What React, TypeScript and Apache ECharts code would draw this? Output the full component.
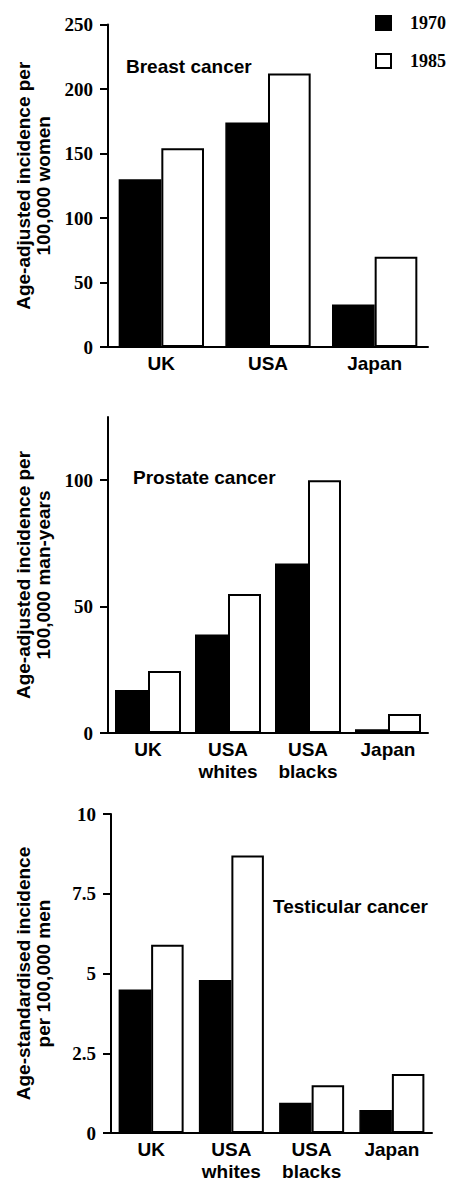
import React, { useEffect, useRef } from "react";
import * as echarts from "echarts";

const years = ["1970", "1985"];

const breastCategories = ["UK", "USA", "Japan"];
const breast1970 = [130, 174, 33];
const breast1985 = [154, 212, 70];
const breastTicks = [0, 50, 100, 150, 200, 250];

const prostateCategories = ["UK", "USA\nwhites", "USA\nblacks", "Japan"];
const prostate1970 = [17, 39, 67, 1.5];
const prostate1985 = [24.5, 55, 100, 7.5];
const prostateTicks = [0, 50, 100];

const testicularCategories = ["UK", "USA\nwhites", "USA\nblacks", "Japan"];
const testicular1970 = [4.5, 4.8, 0.95, 0.72];
const testicular1985 = [5.9, 8.7, 1.5, 1.85];

const titles = ["Breast cancer", "Prostate cancer", "Testicular cancer"];
const yTitles = [
  "Age-adjusted incidence per\n100,000 women",
  "Age-adjusted incidence per\n100,000 man-years",
  "Age-standardised incidence\nper 100,000 men",
];

const SANS = "'Liberation Sans', Arial, sans-serif";
const SERIF = "'Liberation Serif', 'Times New Roman', serif";

export default function App() {
  const ref = useRef<HTMLDivElement>(null);
  useEffect(() => {
    if (!ref.current) return;
    const chart = echarts.init(ref.current, undefined, { renderer: "svg" });

    const grids = [
      { left: 108, top: 24.5, width: 320, height: 322.5 },
      { left: 108, top: 417, width: 320, height: 316 },
      { left: 111, top: 814, width: 321, height: 322.5 },
    ];
    const cats = [breastCategories, prostateCategories, testicularCategories];
    const d70 = [breast1970, prostate1970, testicular1970];
    const d85 = [breast1985, prostate1985, testicular1985];
    const gaps = ["20%", "17.5%", "19%"];

    const axisLine = { show: true, lineStyle: { color: "#000", width: 2 } };
    const axisTick = { show: true, length: 8, lineStyle: { color: "#000", width: 2 } };
    const yLabel = {
      fontFamily: SERIF,
      fontWeight: "bold" as const,
      fontSize: 19,
      color: "#000",
      margin: 15,
    };

    const xAxis = cats.map((c, i) => ({
      type: "category" as const,
      gridIndex: i,
      data: c,
      axisLine,
      axisTick: { show: false },
      axisLabel: {
        fontFamily: SANS,
        fontWeight: "bold" as const,
        fontSize: 19,
        color: "#000",
        margin: 5,
        lineHeight: 22,
      },
      splitLine: { show: false },
    }));

    const nameStyle = {
      fontFamily: SANS,
      fontWeight: "bold" as const,
      fontSize: 19,
      lineHeight: 20,
      color: "#000",
      align: "center" as const,
    };

    const yAxis = [
      {
        type: "value" as const,
        gridIndex: 0,
        min: 0,
        max: 250,
        interval: 50,
        axisLine,
        axisTick,
        axisLabel: { ...yLabel, customValues: breastTicks },
        splitLine: { show: false },
        name: yTitles[0],
        nameLocation: "middle" as const,
        nameRotate: 90,
        nameGap: 55,
        nameTextStyle: nameStyle,
      },
      {
        type: "value" as const,
        gridIndex: 1,
        min: 0,
        max: 125,
        interval: 50,
        axisLine,
        axisTick: { ...axisTick, customValues: prostateTicks },
        axisLabel: { ...yLabel, customValues: prostateTicks },
        splitLine: { show: false },
        name: yTitles[1],
        nameLocation: "middle" as const,
        nameRotate: 90,
        nameGap: 55,
        nameTextStyle: nameStyle,
      },
      {
        type: "value" as const,
        gridIndex: 2,
        min: 0,
        max: 10,
        interval: 2.5,
        axisLine,
        axisTick,
        axisLabel: yLabel,
        splitLine: { show: false },
        name: yTitles[2],
        nameLocation: "middle" as const,
        nameRotate: 90,
        nameGap: 58,
        nameTextStyle: nameStyle,
      },
    ];

    const series: any[] = [];
    for (let i = 0; i < 3; i++) {
      series.push({
        type: "bar",
        name: years[0],
        xAxisIndex: i,
        yAxisIndex: i,
        data: d70[i],
        barGap: "0%",
        barCategoryGap: gaps[i],
        itemStyle: { color: "#000", borderColor: "#000", borderWidth: 1.5 },
      });
      series.push({
        type: "bar",
        name: years[1],
        xAxisIndex: i,
        yAxisIndex: i,
        data: d85[i],
        barGap: "0%",
        barCategoryGap: gaps[i],
        itemStyle: { color: "#fff", borderColor: "#000", borderWidth: 2 },
      });
    }

    const titleStyle = {
      fontFamily: SANS,
      fontWeight: "bold",
      fontSize: 19,
      fill: "#000",
      textVerticalAlign: "middle",
    };

    chart.setOption({
      animation: false,
      backgroundColor: "#fff",
      grid: grids,
      xAxis,
      yAxis,
      series,
      graphic: [
        { type: "text", left: 126, top: 57, style: { ...titleStyle, text: titles[0] } },
        { type: "text", left: 133, top: 468, style: { ...titleStyle, text: titles[1] } },
        { type: "text", left: 273, top: 897, style: { ...titleStyle, text: titles[2] } },
        { type: "rect", shape: { x: 375, y: 15, width: 17, height: 16 }, style: { fill: "#000" } },
        {
          type: "rect",
          shape: { x: 376, y: 54, width: 15, height: 14 },
          style: { fill: "#fff", stroke: "#000", lineWidth: 2 },
        },
        {
          type: "text",
          x: 410,
          y: 23,
          style: { text: years[0], fontFamily: SERIF, fontWeight: "bold", fontSize: 18, fill: "#000", verticalAlign: "middle" },
        },
        {
          type: "text",
          x: 410,
          y: 61,
          style: { text: years[1], fontFamily: SERIF, fontWeight: "bold", fontSize: 18, fill: "#000", verticalAlign: "middle" },
        },
      ],
    });
    return () => chart.dispose();
  }, []);

  return (
    <div
      ref={ref}
      style={{ position: "absolute", left: 0, top: 0, width: 449, height: 1182, background: "#fff" }}
    />
  );
}
